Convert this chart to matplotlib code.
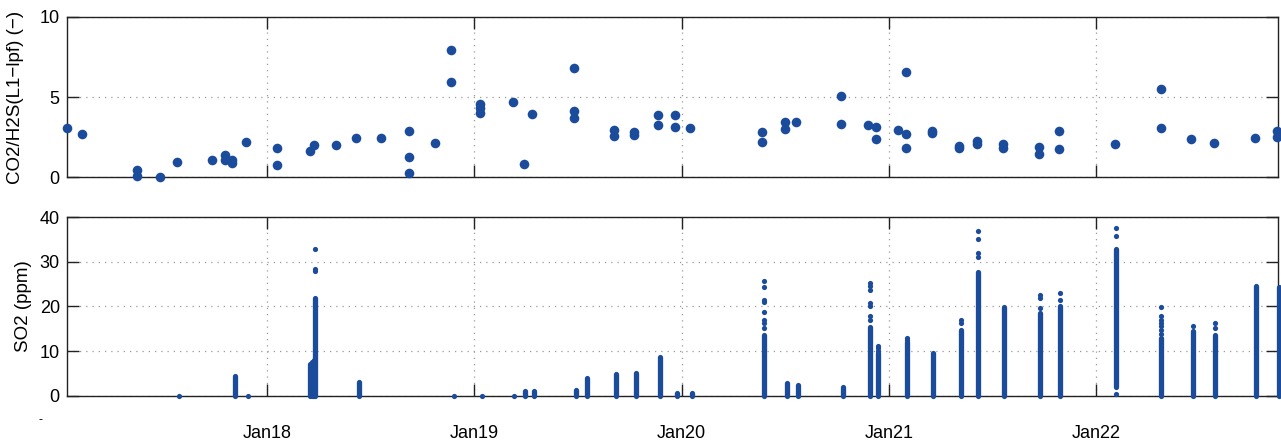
import matplotlib
matplotlib.use("Agg")
import matplotlib.pyplot as plt

plt.rcParams['font.family'] = ['Liberation Sans', 'DejaVu Sans']

# time axis in days of January
day_ticks = [18, 19, 20, 21, 22]
day_labels = ['Jan18', 'Jan19', 'Jan20', 'Jan21', 'Jan22']

# CO2/H2S ratio samples
ratio_t = [17.035, 17.110, 17.373, 17.373, 17.487, 17.566, 17.736, 17.800, 17.800,
           17.834, 17.834, 17.900, 18.048, 18.048, 18.206, 18.225, 18.334, 18.431,
           18.551, 18.685, 18.685, 18.685, 18.812, 18.890, 18.890, 19.026, 19.026,
           19.026, 19.187, 19.240, 19.278, 19.482, 19.482, 19.482, 19.672, 19.672,
           19.770, 19.770, 19.888, 19.888, 19.968, 19.968, 20.042, 20.388, 20.388,
           20.497, 20.497, 20.553, 20.770, 20.770, 20.899, 20.938, 20.938, 21.044,
           21.081, 21.081, 21.081, 21.206, 21.206, 21.340, 21.340, 21.425, 21.425,
           21.548, 21.548, 21.725, 21.725, 21.822, 21.822, 22.091, 22.311, 22.311,
           22.455, 22.568, 22.766, 22.873, 22.873]
ratio_v = [3.04, 2.67, 0.48, 0.08, 0.02, 0.96, 1.06, 1.37, 1.10,
           1.10, 0.92, 2.20, 1.80, 0.78, 1.65, 2.04, 2.04, 2.45,
           2.45, 2.87, 1.25, 0.28, 2.16, 7.90, 5.96, 4.57, 4.30,
           4.03, 4.67, 0.83, 3.97, 6.81, 4.13, 3.67, 2.97, 2.60,
           2.82, 2.63, 3.86, 3.24, 3.88, 3.16, 3.07, 2.85, 2.20,
           3.42, 3.01, 3.42, 5.09, 3.32, 3.28, 3.14, 2.37, 2.93,
           2.70, 6.54, 1.81, 2.87, 2.75, 1.95, 1.82, 2.28, 2.10,
           2.07, 1.81, 1.87, 1.43, 2.87, 1.79, 2.05, 5.52, 3.09,
           2.37, 2.14, 2.43, 2.91, 2.49]

# SO2 bursts: dense runs of samples between low and high
so2_t = [17.846, 18.210, 18.216, 18.222, 18.228, 18.233, 18.442, 19.247, 19.288,
         19.492, 19.544, 19.684, 19.778, 19.897, 19.978, 20.050, 20.399, 20.506,
         20.561, 20.780, 20.907, 20.946, 21.087, 21.214, 21.348, 21.430, 21.553,
         21.730, 21.825, 22.096, 22.314, 22.464, 22.573, 22.772, 22.879]
so2_lo = [0, 0, 0, 0, 0, 0, 0, 0, 0,
          0, 0, 0, 0, 0, 0, 0, 0, 0,
          0, 0, 0, 0, 0, 0, 0, 0, 0,
          0, 0, 2.0, 0, 0, 0, 0, 0]
so2_hi = [4.4, 7.2, 7.5, 7.5, 8.0, 21.8, 3.1, 1.0, 1.1,
          1.3, 4.0, 4.8, 5.0, 8.6, 0.7, 0.5, 13.6, 2.9,
          2.3, 2.0, 15.5, 9.5, 12.1, 9.5, 14.7, 27.8, 19.8,
          18.5, 20.0, 32.8, 12.9, 14.4, 13.6, 24.6, 24.3]

# isolated SO2 samples
so2_pt_t = [17.577, 17.910, 18.902, 19.037, 19.194,
            18.233, 18.233, 18.233,
            20.399, 20.399, 20.399, 20.399, 20.399, 20.399, 20.399, 20.399,
            20.907, 20.907, 20.907, 20.907, 20.907, 20.907, 20.907,
            20.946, 20.946, 20.946,
            21.087, 21.087,
            21.348, 21.348,
            21.430, 21.430, 21.430, 21.430,
            21.730, 21.730, 21.730,
            21.825, 21.825,
            22.096, 22.096, 22.096,
            22.314, 22.314, 22.314, 22.314, 22.314, 22.314, 22.314,
            22.464,
            22.573, 22.573]
so2_pt_v = [0, 0, 0, 0, 0,
            28.0, 28.4, 32.9,
            15.2, 16.2, 17.0, 18.8, 21.1, 21.5, 24.4, 25.8,
            17.0, 17.9, 20.0, 20.7, 23.7, 24.6, 25.2,
            10.0, 10.6, 11.2,
            12.6, 13.0,
            16.2, 17.0,
            31.2, 31.9, 35.1, 37.0,
            19.6, 21.8, 22.6,
            21.5, 23.1,
            0.3, 35.9, 37.5,
            13.9, 14.8, 15.6, 16.3, 17.0, 17.8, 19.8,
            15.7,
            15.1, 16.2]

blue = '#1b4b9b'
grid_kw = dict(color='#9a9a9a', linestyle=(0, (1, 4)), linewidth=0.9)

fig = plt.figure(figsize=(12.81, 4.41), dpi=100)
ax1 = fig.add_axes([0.0521, 0.598, 0.9454, 0.364])
ax2 = fig.add_axes([0.0521, 0.1027, 0.9454, 0.4046])

ax1.scatter(ratio_t, ratio_v, s=48, color=blue, linewidths=0, zorder=3, clip_on=False)
ax1.set_ylim(0, 10)
ax1.set_yticks([0, 5, 10])
ax1.set_ylabel('CO2/H2S(L1\u2212lpf) (\u2212)', fontsize=13.5)
ax1.yaxis.set_label_coords(-0.0355, 0.5)

ax2.vlines(so2_t, so2_lo, so2_hi, color=blue, linewidth=3.8,
           capstyle='round', zorder=3, clip_on=False)
ax2.scatter(so2_pt_t, so2_pt_v, s=14, color=blue, linewidths=0, zorder=3, clip_on=False)
ax2.set_ylim(0, 40)
ax2.set_yticks([0, 10, 20, 30, 40])
ax2.set_ylabel('SO2 (ppm)', fontsize=13.5)
ax2.yaxis.set_label_coords(-0.029, 0.5)

for ax in (ax1, ax2):
    ax.set_xlim(17.035, 22.875)
    ax.set_xticks(day_ticks)
    ax.grid(True, **grid_kw)
    ax.set_axisbelow(True)
    ax.tick_params(direction='in', top=True, right=True, length=8.5,
                   width=1.0, labelsize=13, pad=5, color='#222222')
    for sp in ax.spines.values():
        sp.set_color('#222222')
        sp.set_linewidth(1.0)

ax1.set_xticklabels([])
ax2.set_xticklabels(day_labels)
ax2.tick_params(axis='x', pad=21)

fig.text(0.032, 0.048, '-', fontsize=9, ha='center', va='center')

fig.savefig('out.png', dpi=100)
